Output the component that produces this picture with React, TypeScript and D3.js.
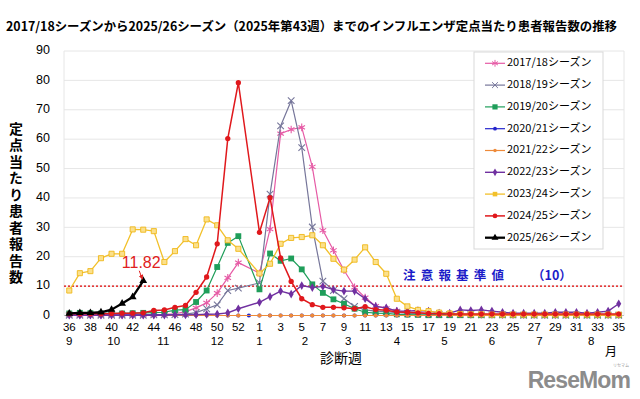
import * as d3 from "d3";

// 診断週（36週〜53週、1週〜35週）
const weeks = [
  36, 37, 38, 39, 40, 41, 42, 43, 44, 45, 46, 47, 48, 49, 50, 51, 52, 53,
  1, 2, 3, 4, 5, 6, 7, 8, 9, 10, 11, 12, 13, 14, 15, 16, 17, 18, 19, 20,
  21, 22, 23, 24, 25, 26, 27, 28, 29, 30, 31, 32, 33, 34, 35,
];

// 月ラベルとその位置（週インデックス）
const months = ["9", "10", "11", "12", "1", "2", "3", "4", "5", "6", "7", "8"];
const monthAt = [0, 4.2, 8.9, 14, 18, 22.3, 26.4, 31, 35.5, 40, 44.5, 49.4];

const yTicks = [0, 10, 20, 30, 40, 50, 60, 70, 80, 90];

const seasonNames = [
  "2017/18シーズン", "2018/19シーズン", "2019/20シーズン", "2020/21シーズン",
  "2021/22シーズン", "2022/23シーズン", "2023/24シーズン", "2024/25シーズン",
  "2025/26シーズン",
];

const s1718 = [0.1, 0.1, 0.1, 0.1, 0.1, 0.1, 0.2, 0.2, 0.3, 0.4, 0.6, 1.3, 2.6, 4.3, 7.6, 12.8, 18.0, null,
  14.4, 29.4, 61.9, 63.3, 64.0, 50.6, 29.0, 22.2, 15.4, 9.6, 6.1, 3.2, 2.4, 1.6, 1.1, 0.9, 0.7,
  0.5, 0.4, 0.4, 0.3, 0.3, 0.3, 0.2, 0.2, 0.2, 0.2, 0.1, 0.1, 0.1, 0.1, 0.1, 0.1, 0.1, 0.1];
const s1819 = [0.1, 0.1, 0.1, 0.1, 0.1, 0.1, 0.1, 0.1, 0.2, 0.2, 0.3, 0.5, 1.0, 2.3, 3.6, 8.5, 9.3, null,
  11.1, 41.3, 64.5, 73.1, 57.1, 30.1, 11.7, 8.5, 5.7, 3.1, 1.9, 1.5, 1.3, 1.0, 0.8, 0.6, 0.5,
  0.4, 0.3, 0.3, 0.3, 0.2, 0.2, 0.2, 0.2, 0.1, 0.1, 0.1, 0.1, 0.1, 0.1, 0.1, 0.1, 0.1, 0.1];
const s1920 = [0.7, 0.9, 0.8, 0.7, 0.7, 0.7, 0.8, 0.9, 1.0, 1.1, 1.8, 2.0, 4.6, 8.5, 16.5, 24.7, 27.0, null,
  8.9, 21.1, 18.6, 19.4, 15.7, 10.6, 7.7, 5.5, 4.0, 2.3, 1.1, 0.8, 0.7, 0.4, 0.3, 0.2, 0.1,
  0.1, 0.1, 0.1, 0.1, 0.1, 0.1, 0.1, 0.1, 0.1, 0.1, 0.1, 0.1, 0.1, 0.1, 0.1, 0.1, 0.1, 0.1];
const s2021 = [0.1, 0.1, 0.1, 0.1, 0.1, 0.1, 0.1, 0.1, 0.1, 0.1, 0.1, 0.1, 0.1, 0.1, 0.0, 0.0, 0.0, 0.0,
  0.0, 0.0, 0.0, 0.0, 0.0, 0.0, 0.0, 0.0, 0.0, 0.0, 0.0, 0.0, 0.0, 0.0, 0.0, 0.0, 0.0,
  0.0, 0.0, 0.0, 0.0, 0.0, 0.0, 0.0, 0.0, 0.0, 0.0, 0.0, 0.0, 0.0, 0.0, 0.0, 0.0, 0.0, 0.0];
const s2122 = [0.0, 0.0, 0.0, 0.0, 0.0, 0.0, 0.0, 0.0, 0.0, 0.0, 0.0, 0.0, 0.0, 0.0, 0.0, 0.0, 0.0, null,
  0.0, 0.0, 0.0, 0.0, 0.0, 0.0, 0.0, 0.0, 0.0, 0.0, 0.0, 0.0, 0.0, 0.0, 0.0, 0.0, 0.0,
  0.0, 0.0, 0.0, 0.0, 0.0, 0.0, 0.0, 0.0, 0.0, 0.0, 0.0, 0.0, 0.0, 0.0, 0.0, 0.0, 0.0, 0.0];
const s2223 = [0.1, 0.1, 0.1, 0.1, 0.1, 0.1, 0.1, 0.1, 0.1, 0.1, 0.2, 0.2, 0.3, 0.4, 0.5, 0.9, 2.3, null,
  4.5, 6.4, 8.3, 7.3, 10.2, 9.5, 9.9, 8.8, 8.3, 8.3, 5.7, 3.1, 2.6, 1.5, 1.5, 1.7, 1.5,
  0.8, 0.8, 1.9, 1.7, 1.9, 1.5, 1.1, 0.8, 0.8, 0.8, 0.8, 1.1, 1.1, 1.1, 0.8, 1.1, 1.5, 4.0];
const s2324 = [8.5, 14.4, 15.1, 19.5, 21.0, 21.0, 29.3, 29.2, 28.7, 18.2, 21.9, 26.0, 23.9, 32.7, 30.7, 25.6, 22.7, null,
  14.3, 17.6, 24.4, 26.4, 26.7, 27.3, 23.9, 19.3, 15.6, 19.0, 23.2, 18.2, 14.2, 5.7, 3.1, 1.9, 1.5,
  1.0, 0.7, 0.5, 0.4, 0.4, 0.3, 0.3, 0.3, 0.3, 0.3, 0.3, 0.3, 0.3, 0.3, 0.3, 0.3, 0.3, 0.3];
const s2425 = [0.6, 0.6, 0.6, 0.6, 0.7, 0.8, 0.8, 0.9, 1.7, 1.9, 2.8, 3.4, 7.9, 13.1, 24.4, 60.2, 79.2, null,
  28.3, 40.1, 19.6, 11.6, 5.7, 3.7, 2.8, 2.8, 2.6, 2.3, 3.0, 2.0, 1.8, 1.2, 1.1, 0.9, 0.7,
  0.6, 0.5, 0.5, 0.5, 0.5, 0.5, 0.5, 0.5, 0.5, 0.5, 0.5, 0.5, 0.5, 0.5, 0.5, 0.5, 0.5, 0.5];
const s2526 = [0.7, 0.9, 0.9, 1.1, 2.0, 4.1, 6.3, 11.82];

const latest = 11.82;
const alertLevel = 10;

const series = [
  { name: seasonNames[0], values: s1718, color: "#e65aa5", symbol: d3.symbolAsterisk, size: 40, stroke: true, width: 1.2 },
  { name: seasonNames[1], values: s1819, color: "#76769a", symbol: d3.symbolX, size: 30, stroke: true, width: 1.2 },
  { name: seasonNames[2], values: s1920, color: "#1f9e5a", symbol: d3.symbolSquare, size: 34, stroke: false, width: 1.2 },
  { name: seasonNames[3], values: s2021, color: "#2424cc", symbol: d3.symbolCircle, size: 14, stroke: false, width: 1.2 },
  { name: seasonNames[4], values: s2122, color: "#ee8a3a", symbol: d3.symbolCircle, size: 12, stroke: false, width: 1.2 },
  { name: seasonNames[5], values: s2223, color: "#7030a0", symbol: d3.symbolDiamond, size: 22, stroke: false, width: 1.4 },
  { name: seasonNames[6], values: s2324, color: "#f2c02a", symbol: d3.symbolSquare, size: 26, stroke: false, width: 1.3 },
  { name: seasonNames[7], values: s2425, color: "#e0181c", symbol: d3.symbolCircle, size: 22, stroke: false, width: 1.5 },
  { name: seasonNames[8], values: s2526, color: "#000000", symbol: d3.symbolTriangle, size: 26, stroke: false, width: 2.3 },
];

const W = 640;
const H = 399;
const plotLeft = 64;
const plotRight = 624;
const plotTop = 51;
const plotBottom = 315.5;
const jp = "'Noto Sans CJK JP', 'Noto Sans', sans-serif";
const num = "'Liberation Sans', Arial, sans-serif";

export default function App() {
  const x = d3.scalePoint<number>().domain(d3.range(weeks.length)).range([plotLeft, plotRight]).padding(0.5);
  const y = d3.scaleLinear([0, 90], [plotBottom, plotTop]);
  const xf = (i: number) => (x(0) as number) + i * x.step();

  const line = d3.line<[number, number]>().x(d => x(d[0]) as number).y(d => y(d[1]));

  const lastIdx = s2526.length - 1;
  const px = x(lastIdx) as number;
  const py = y(latest);

  return (
    <div style={{ position: "absolute", left: 0, top: 0 }}>
      <svg width={W} height={H} style={{ display: "block", background: "#fff" }}>
        <defs>
          <marker id="arr" viewBox="0 0 10 10" refX="8" refY="5" markerWidth="5" markerHeight="5" orient="auto">
            <path d="M0,0L10,5L0,10z" fill="#e02020" />
          </marker>
        </defs>

        <text x={6} y={28} fontFamily={jp} fontSize={12.5} fontWeight="bold" dominantBaseline="middle"
          textLength={611} lengthAdjust="spacingAndGlyphs">
          2017/18シーズンから2025/26シーズン（2025年第43週）までのインフルエンザ定点当たり患者報告数の推移
        </text>

        {/* grid */}
        {yTicks.map(t => (
          <line key={t} x1={plotLeft} x2={plotRight} y1={y(t)} y2={y(t)} stroke="#e6e6e6" strokeWidth={1} />
        ))}
        <line x1={plotLeft} x2={plotLeft} y1={plotTop} y2={plotBottom} stroke="#e6e6e6" />
        <line x1={plotRight} x2={plotRight} y1={plotTop} y2={plotBottom} stroke="#e6e6e6" />
        <line x1={plotLeft} x2={plotRight} y1={y(0)} y2={y(0)} stroke="#bfbfbf" />

        {yTicks.map(t => (
          <text key={t} x={50} y={y(t)} textAnchor="end" dominantBaseline="middle" fontFamily={num} fontSize={12.5}>{t}</text>
        ))}

        <text x={16} y={204} textAnchor="middle" fontFamily={jp} fontSize={14} fontWeight="bold"
          letterSpacing={2.5} style={{ writingMode: "vertical-rl" }}>定点当たり患者報告数</text>

        {weeks.map((w, i) => i % 2 === 0 ? (
          <text key={i} x={x(i)} y={328} textAnchor="middle" dominantBaseline="middle" fontFamily={num} fontSize={11.5}>{w}</text>
        ) : null)}
        {months.map((m, i) => (
          <text key={i} x={xf(monthAt[i])} y={341.5} textAnchor="middle" dominantBaseline="middle" fontFamily={num} fontSize={11.5}>{m}</text>
        ))}
        <text x={611} y={353} textAnchor="middle" dominantBaseline="middle" fontFamily={jp} fontSize={12}>月</text>
        <text x={341} y={359} textAnchor="middle" dominantBaseline="middle" fontFamily={jp} fontSize={14}>診断週</text>

        {/* alert level */}
        <line x1={plotLeft} x2={plotRight} y1={y(alertLevel)} y2={y(alertLevel)} stroke="#e00000" strokeWidth={1.3} strokeDasharray="2,2" />
        <text x={403} y={277} dominantBaseline="middle" fontFamily={jp} fontSize={12.5} fontWeight="bold" fill="#1c1cc8" letterSpacing={5.2}>注意報基準値</text>
        <text x={532} y={277} dominantBaseline="middle" fontFamily={jp} fontSize={12.5} fontWeight="bold" fill="#1c1cc8">（{alertLevel}）</text>

        {/* series */}
        {series.map((s, si) => {
          const pts = s.values.map((v, i) => [i, v] as [number, number | null])
            .filter(d => d[1] !== null) as [number, number][];
          const sym = d3.symbol().type(s.symbol).size(s.size)();
          const isYellow = si === 6;
          return (
            <g key={s.name}>
              <path d={line(pts) || ""} fill="none" stroke={s.color} strokeWidth={s.width} strokeLinejoin="round" />
              {pts.map(d => (
                <path key={d[0]} d={sym || ""} transform={`translate(${x(d[0])},${y(d[1])})`}
                  fill={s.stroke ? "none" : isYellow ? "#fbe08c" : s.color}
                  stroke={s.stroke || isYellow ? (isYellow ? "#efb81a" : s.color) : "none"}
                  strokeWidth={s.stroke ? 1.1 : 0.9} />
              ))}
            </g>
          );
        })}

        {/* annotation */}
        <text x={px - 2} y={py - 17} textAnchor="middle" dominantBaseline="middle" fontFamily={num}
          fontSize={16} fill="#e02020">{latest}</text>
        <line x1={px - 4} y1={py - 10} x2={px - 1} y2={py - 2} stroke="#e02020" strokeWidth={1} markerEnd="url(#arr)" />

        {/* legend */}
        <rect x={474} y={52} width={129} height={197} fill="#fff" stroke="#d9d9d9" />
        {series.map((s, i) => {
          const ly = 63.3 + i * 21.8;
          const sym = d3.symbol().type(s.symbol).size(s.size * 0.8)();
          return (
            <g key={s.name}>
              <line x1={485} x2={505} y1={ly} y2={ly} stroke={s.color} strokeWidth={s.width} />
              <path d={sym || ""} transform={`translate(495,${ly})`}
                fill={s.stroke ? "none" : s.color} stroke={s.stroke ? s.color : "none"} strokeWidth={1} />
              <text x={507} y={ly} dominantBaseline="middle" fontFamily={jp} fontSize={11}>{s.name}</text>
            </g>
          );
        })}

        {/* watermark */}
        <text x={629} y={366.5} textAnchor="end" fontFamily={jp} fontSize={4} fill="#999">リセマム</text>
        <text x={630} y={382} textAnchor="end" dominantBaseline="middle" fontFamily={num}
          fontSize={23} fontWeight="bold" fill="#8c8c8c" letterSpacing={-0.9}>ReseMom</text>
      </svg>
    </div>
  );
}
